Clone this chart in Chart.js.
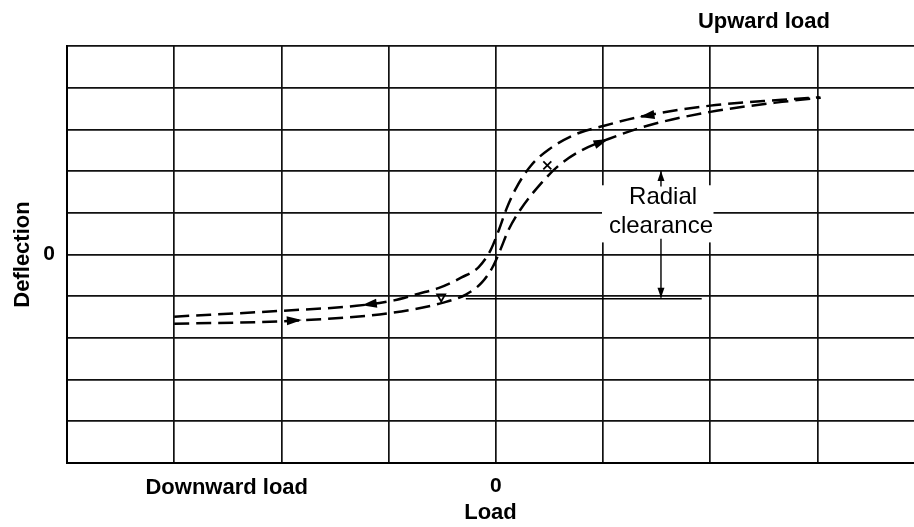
<!DOCTYPE html>
<html>
<head>
<meta charset="utf-8">
<script src="https://cdn.jsdelivr.net/npm/chart.js@4"></script>
<style>
  body { margin: 0; background: #fff; }
  #wrap { width: 914px; height: 527px; }
</style>
</head>
<body>
<div id="wrap"><canvas id="loadChart" width="914" height="527"></canvas></div>
<script>
// Load / deflection in grid units (0 = no load, no deflection)
const xTicks = [-4, -3, -2, -1, 0, 1, 2, 3];
const yTicks = [-5, -4, -3, -2, -1, 0, 1, 2, 3, 4, 5];

// Unloading branch (upper dashed curve, travelled right to left)
const upperX = [-3.0, -2.0, -1.3, -0.95, -0.72, -0.53, -0.32, -0.16, -0.05, 0.03, 0.1, 0.19, 0.33, 0.5, 0.75, 1.0, 1.34, 2.0, 2.67, 3.02];
const upperY = [-1.49, -1.35, -1.23, -1.1, -0.94, -0.8, -0.55, -0.3, 0.1, 0.6, 1.1, 1.6, 2.14, 2.53, 2.89, 3.08, 3.3, 3.57, 3.71, 3.77];

// Loading branch (lower dashed curve, travelled left to right)
const lowerX = [-3.0, -1.9, -0.97, -0.5, -0.28, -0.13, -0.03, 0.04, 0.12, 0.23, 0.43, 0.59, 0.8, 1.05, 1.43, 2.0, 2.67, 3.03];
const lowerY = [-1.66, -1.59, -1.4, -1.16, -0.96, -0.67, -0.3, 0.1, 0.6, 1.08, 1.73, 2.14, 2.5, 2.77, 3.1, 3.42, 3.66, 3.76];

// Arrowheads on the curves: tip point and a point behind it on the same curve
const arrowTipX = [-1.25, 1.34, -1.81, 1.05];
const arrowTipY = [-1.22, 3.30, -1.57, 2.77];
const arrowTailX = [-1.0, 1.6, -2.1, 0.85];
const arrowTailY = [-1.13, 3.41, -1.61, 2.56];

// Radial clearance marker
const clearanceX = 1.54;
const clearanceTop = 2.0;      // upper arrow tip
const clearanceBottom = -1.04; // lower arrow tip
const baseLineY = -1.06;
const baseLineFrom = -0.28;
const baseLineTo = 1.92;
const crossMark = [0.48, 2.14];
const triangleMark = [-0.51, -1.03];

const boldFont = 'bold 22px "Liberation Sans", Arial, sans-serif';
const plainFont = '24px "Liberation Sans", Arial, sans-serif';

function toPoints(xs, ys) {
  return xs.map((x, i) => ({ x: x, y: ys[i] }));
}

function arrowHead(ctx, x1, y1, x2, y2, len, half) {
  // filled arrow head with tip at (x2, y2) pointing away from (x1, y1)
  const a = Math.atan2(y2 - y1, x2 - x1);
  ctx.beginPath();
  ctx.moveTo(x2, y2);
  ctx.lineTo(x2 - len * Math.cos(a) + half * Math.sin(a), y2 - len * Math.sin(a) - half * Math.cos(a));
  ctx.lineTo(x2 - len * Math.cos(a) - half * Math.sin(a), y2 - len * Math.sin(a) + half * Math.cos(a));
  ctx.closePath();
  ctx.fill();
}

const annotations = {
  id: 'annotations',
  beforeDatasetsDraw(chart) {
    const { ctx, scales: { x, y } } = chart;
    // blank area behind the "Radial clearance" label
    ctx.save();
    ctx.fillStyle = '#fff';
    const l = x.getPixelForValue(0.99), r = x.getPixelForValue(2.03);
    const t = y.getPixelForValue(1.66), b = y.getPixelForValue(0.29);
    ctx.fillRect(l, t, r - l, b - t);
    ctx.restore();
  },
  afterDraw(chart) {
    const { ctx, chartArea, scales: { x, y } } = chart;
    ctx.save();
    ctx.fillStyle = '#000';
    ctx.strokeStyle = '#000';

    // arrowheads along the curves
    for (let i = 0; i < arrowTipX.length; i++) {
      arrowHead(ctx,
        x.getPixelForValue(arrowTailX[i]), y.getPixelForValue(arrowTailY[i]),
        x.getPixelForValue(arrowTipX[i]), y.getPixelForValue(arrowTipY[i]), 15, 4.5);
    }

    // reference line for the clearance
    ctx.lineWidth = 1.4;
    ctx.beginPath();
    ctx.moveTo(x.getPixelForValue(baseLineFrom), y.getPixelForValue(baseLineY));
    ctx.lineTo(x.getPixelForValue(baseLineTo), y.getPixelForValue(baseLineY));
    ctx.stroke();

    // clearance arrows
    const cx = x.getPixelForValue(clearanceX);
    ctx.beginPath();
    ctx.moveTo(cx, y.getPixelForValue(1.63));
    ctx.lineTo(cx, y.getPixelForValue(clearanceTop));
    ctx.moveTo(cx, y.getPixelForValue(0.38));
    ctx.lineTo(cx, y.getPixelForValue(clearanceBottom));
    ctx.stroke();
    arrowHead(ctx, cx, y.getPixelForValue(1.63), cx, y.getPixelForValue(clearanceTop), 10, 3.5);
    arrowHead(ctx, cx, y.getPixelForValue(0.38), cx, y.getPixelForValue(clearanceBottom), 10, 3.5);

    // small marks on the curves
    const mx = x.getPixelForValue(crossMark[0]), my = y.getPixelForValue(crossMark[1]);
    ctx.lineWidth = 1.8;
    ctx.beginPath();
    ctx.moveTo(mx - 4, my - 4); ctx.lineTo(mx + 4, my + 4);
    ctx.moveTo(mx + 4, my - 4); ctx.lineTo(mx - 4, my + 4);
    ctx.stroke();
    const tx = x.getPixelForValue(triangleMark[0]), ty = y.getPixelForValue(triangleMark[1]);
    ctx.beginPath();
    ctx.moveTo(tx - 4, ty - 3); ctx.lineTo(tx + 4, ty - 3); ctx.lineTo(tx, ty + 4);
    ctx.closePath();
    ctx.stroke();

    // texts
    ctx.textAlign = 'center';
    ctx.textBaseline = 'middle';
    ctx.font = plainFont;
    ctx.fillText('Radial', x.getPixelForValue(1.56), y.getPixelForValue(1.37));
    ctx.fillText('clearance', x.getPixelForValue(1.54), y.getPixelForValue(0.67));
    ctx.font = boldFont;
    ctx.fillText('Upward load', x.getPixelForValue(2.5), chartArea.top - 24);
    ctx.fillText('Downward load', x.getPixelForValue(-2.51), chartArea.bottom + 25);
    ctx.restore();
  }
};

const ctx = document.getElementById('loadChart').getContext('2d');

const curveStyle = {
  borderColor: '#000',
  borderWidth: 2.5,
  borderDash: [15, 7],
  pointRadius: 0,
  showLine: true,
  fill: false,
  cubicInterpolationMode: 'monotone'
};

const loadChart = new Chart(ctx, {
  type: 'scatter',
  data: {
    datasets: [
      Object.assign({ label: 'Unloading', data: toPoints(upperX, upperY) }, curveStyle),
      Object.assign({ label: 'Loading', data: toPoints(lowerX, lowerY) }, curveStyle)
    ]
  },
  options: {
    responsive: false,
    animation: false,
    layout: { padding: { top: 46, right: 0, left: 0, bottom: 0 } },
    plugins: {
      legend: { display: false },
      tooltip: { enabled: false }
    },
    scales: {
      x: {
        type: 'linear',
        min: -4,
        max: 3.9,
        afterBuildTicks: (scale) => { scale.ticks = xTicks.map(v => ({ value: v })); },
        afterFit: (scale) => { scale.height = 64; },
        grid: { color: '#111', lineWidth: 1.7, drawTicks: false },
        border: { display: true, color: '#000', width: 2 },
        ticks: {
          padding: 11,
          color: '#000',
          font: { family: '"Liberation Sans", Arial, sans-serif', size: 21, weight: 'bold' },
          callback: (v) => (v === 0 ? '0' : '')
        },
        title: {
          display: true,
          text: 'Load',
          color: '#000',
          padding: { top: 0, bottom: 1 },
          font: { family: '"Liberation Sans", Arial, sans-serif', size: 22, weight: 'bold' }
        }
      },
      y: {
        type: 'linear',
        min: -5,
        max: 5,
        afterBuildTicks: (scale) => { scale.ticks = yTicks.map(v => ({ value: v })); },
        afterFit: (scale) => { scale.width = 67; },
        grid: { color: '#111', lineWidth: 1.7, drawTicks: false },
        border: { display: true, color: '#000', width: 2 },
        ticks: {
          padding: 12,
          color: '#000',
          font: { family: '"Liberation Sans", Arial, sans-serif', size: 21, weight: 'bold' },
          callback: (v) => (v === 0 ? '0' : '')
        },
        title: {
          display: true,
          text: 'Deflection',
          color: '#000',
          padding: { top: 10, bottom: 0 },
          font: { family: '"Liberation Sans", Arial, sans-serif', size: 22, weight: 'bold' }
        }
      }
    }
  },
  plugins: [annotations]
});
</script>
</body>
</html>
